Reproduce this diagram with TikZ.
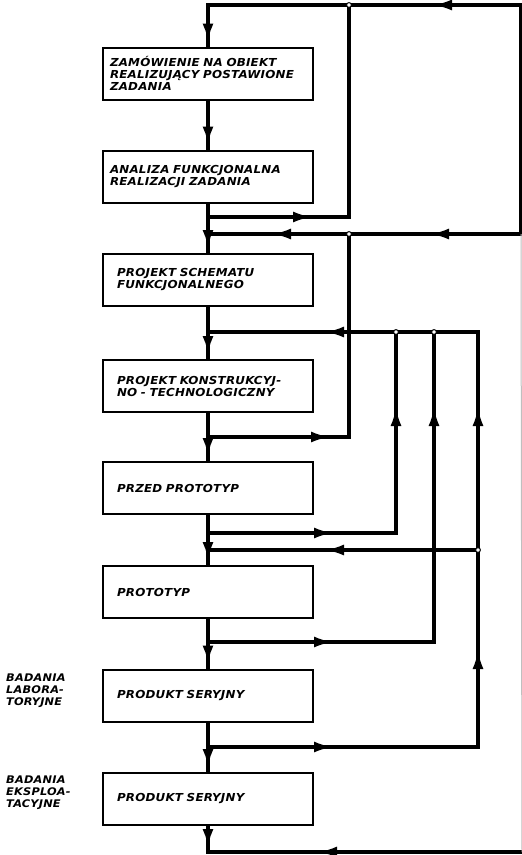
\documentclass[tikz,border=0pt]{standalone}
\usepackage{fontspec}
\usepackage{tikz}
\usetikzlibrary{arrows.meta,decorations.markings}
\newfontfamily\cardfont[FakeStretch=1.08,LetterSpace=2,WordSpace=2.1]{DejaVu Sans}

\tikzset{
  card/.style={draw, line width=2pt, minimum height=52pt, inner xsep=7pt,
    text width=196pt, align=left, execute at begin node={\hyphenpenalty=10000},
    font=\cardfont\bfseries\itshape\fontsize{11}{12}\selectfont},
  card indent/.style={inner xsep=14pt, text width=182pt},
  side/.style={inner sep=0pt, align=left,
    font=\cardfont\bfseries\itshape\fontsize{10.5}{12}\selectfont},
  mainline/.style={line width=4.8pt},
  back/.style={line width=3.2pt, line cap=rect},
  arr/.style={postaction={decorate,decoration={markings,
    mark=at position #1 with {\arrow{Latex[length=19pt,width=11pt]}}}}},
  jdot/.style={fill=white, draw=black, line width=1pt},
}

\begin{document}
\begin{tikzpicture}[x=1pt, y=-1pt]
\useasboundingbox (0,0) rectangle (522,855);

% boxes
\node[card] (zam) at (208,73.5) {ZAMÓWIENIE NA OBIEKT\\REALIZUJĄCY POSTAWIONE\\ZADANIA};
\node[card] (anal) at (208,176.5) {ANALIZA FUNKCJONALNA\\REALIZACJI ZADANIA};
\node[card, card indent] (schem) at (208,280) {PROJEKT SCHEMATU\\FUNKCJONALNEGO};
\node[card, card indent] (konstr) at (208,386) {PROJEKT KONSTRUKCYJ-\\NO - TECHNOLOGICZNY};
\node[card, card indent] (przed) at (208,488) {PRZED PROTOTYP\\[4pt]};
\node[card, card indent] (proto) at (208,592) {PROTOTYP};
\node[card, card indent] (seria) at (208,695.5) {PRODUKT SERYJNY};
\node[card, card indent] (eksp) at (208,799) {PRODUKT SERYJNY};

% side labels
\node[side, anchor=west] (lab) at (6,690.5) {BADANIA\\LABORA-\\TORYJNE};
\node[side, anchor=west] (expl) at (6,792.5) {BADANIA\\EKSPLOA-\\TACYJNE};

% junctions
\coordinate (mtop) at (208,5);
\coordinate (topdot) at (349,5);
\coordinate (tr) at (521,5);
\coordinate (m217) at (208,217);
\coordinate (c217) at (349,217);
\coordinate (m234) at (208,234);
\coordinate (dot234) at (349,234);
\coordinate (r234) at (521,234);
\coordinate (m332) at (208,332);
\coordinate (dotA) at (396,332);
\coordinate (dotB) at (434,332);
\coordinate (c332) at (478,332);
\coordinate (m437) at (208,437);
\coordinate (c437) at (349,437);
\coordinate (m533) at (208,533);
\coordinate (c533) at (396,533);
\coordinate (m550) at (208,550);
\coordinate (dot550) at (478,550);
\coordinate (m642) at (208,642);
\coordinate (c642) at (434,642);
\coordinate (m747) at (208,747);
\coordinate (c747) at (478,747);
\coordinate (mbot) at (208,852);
\coordinate (rbot) at (522,852);

% main flow
\draw[mainline, arr=-4pt] (mtop) -- (zam.north);
\draw[mainline, arr=-4pt] (zam.south) -- (anal.north);
\draw[mainline, arr=-4pt] (anal.south) -- (schem.north);
\draw[mainline, arr=-4pt] (schem.south) -- (konstr.north);
\draw[mainline, arr=-4pt] (konstr.south) -- (przed.north);
\draw[mainline, arr=-4pt] (przed.south) -- (proto.north);
\draw[mainline, arr=-4pt] (proto.south) -- (seria.north);
\draw[mainline, arr=-4pt] (seria.south) -- (eksp.north);
\draw[mainline, arr=-4pt] (eksp.south) -- (mbot);

% feedback loops
\draw[back, arr=317pt] (r234) -- (tr) -- (mtop);
\draw[back, arr=104pt] (m217) -- (c217) -- (topdot);
\draw[back, arr=91pt, arr=249pt] (r234) -- (m234);
\draw[back, arr=122pt] (m437) -- (c437) -- (dot234);
\draw[back, arr=125pt, arr=314pt] (m533) -- (c533) -- (dotA);
\draw[back, arr=153pt] (dot550) -- (m550);
\draw[back, arr=125pt, arr=461pt] (m642) -- (c642) -- (dotB);
\draw[back, arr=125pt, arr=367pt, arr=610pt, arr=838pt] (m747) -- (c747) -- (c332) -- (m332);
\draw[back, arr=204pt] (rbot) -- (mbot);
\draw[black!25, line width=1pt] (r234) -- (rbot);

\foreach \p in {topdot,dot234,dotA,dotB,dot550}
  \draw[jdot] (\p) circle (2.4pt);
\end{tikzpicture}
\end{document}
